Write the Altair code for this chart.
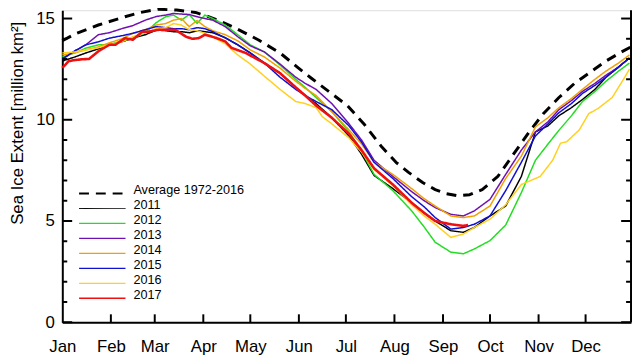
import altair as alt
import pandas as pd

# ---------------- data ----------------
NAMES = ["Average 1972-2016", "2011", "2012", "2013", "2014", "2015", "2016", "2017"]

DAYS_AVG = [0, 9, 23, 40, 50, 61, 73, 85, 92, 100, 111, 125, 139, 150, 159, 170, 182, 193,
            204, 213, 221, 230, 238, 245, 252, 260, 268, 278, 288, 298, 307, 317, 327, 337,
            347, 357, 363]
EXT_AVG = [13.9, 14.27, 14.68, 15.09, 15.3, 15.46, 15.42, 15.3, 15.13, 14.9, 14.51, 13.95,
           13.3, 12.6, 12.05, 11.4, 10.7, 9.75, 8.65, 7.9, 7.4, 6.9, 6.55, 6.35, 6.25,
           6.3, 6.55, 7.2, 8.3, 9.4, 10.3, 11.1, 11.8, 12.35, 12.9, 13.35, 13.6]

DAYS_Y = [0, 8, 15, 23, 30, 38, 45, 53, 60, 66, 71, 76, 81, 86, 91, 96, 104, 112, 120, 129,
          139, 149, 155, 162, 172, 183, 191, 199, 211, 223, 231, 238, 248, 256, 263, 273,
          283, 293, 302, 310, 317, 325, 332, 340, 347, 355, 362]

EXT_2011 = [12.9, 13.1, 13.3, 13.5, 13.7, 13.85, 14.03, 14.2, 14.43, 14.4, 14.35, 14.35, 14.3,
            14.4, 14.35, 14.3, 14.05, 13.7, 13.3, 12.8, 12.3, 11.6, 11.2, 10.8, 10.1, 9.2,
            8.3, 7.25, 6.6, 5.9, 5.4, 5.0, 4.52, 4.44, 4.68, 5.25, 5.74, 7.2, 9.4, 9.7,
            10.2, 10.6, 11.0, 11.5, 12.1, 12.6, 13.05]
EXT_2012 = [13.1, 13.3, 13.54, 13.7, 13.7, 13.9, 14.03, 14.3, 14.8, 15.09, 15.17, 14.92, 15.2,
            14.76, 15.17, 15.0, 14.68, 14.2, 13.7, 13.35, 12.7, 12.0, 11.6, 11.1, 10.4, 9.4,
            8.45, 7.3, 6.5, 5.5, 4.7, 3.95, 3.46, 3.38, 3.62, 4.03, 4.8, 6.4, 8.0, 8.8, 9.48,
            10.2, 10.9, 11.4, 11.9, 12.4, 12.8]
EXT_2013 = [13.0, 13.4, 13.7, 14.2, 14.3, 14.5, 14.65, 14.92, 15.1, 15.17, 15.25, 15.22, 15.2,
            15.09, 15.0, 14.92, 14.6, 14.1, 13.65, 13.35, 12.75, 12.1, 11.8, 11.5, 10.8, 9.8,
            9.0, 8.0, 7.2, 6.45, 6.0, 5.66, 5.33, 5.25, 5.5, 6.07, 7.3, 8.5, 9.4, 9.9, 10.5,
            10.95, 11.4, 11.8, 12.2, 12.6, 13.05]
EXT_2014 = [13.2, 13.3, 13.45, 13.6, 13.8, 14.0, 14.27, 14.45, 14.68, 14.75, 14.92, 15.0, 14.6,
            14.9, 14.6, 14.4, 14.2, 13.9, 13.45, 13.1, 12.55, 11.9, 11.55, 11.2, 10.4, 9.5,
            8.8, 7.9, 7.3, 6.6, 6.1, 5.74, 5.25, 5.17, 5.25, 5.74, 7.1, 8.2, 9.65, 10.1,
            10.6, 11.05, 11.5, 12.0, 12.4, 12.8, 13.2]
EXT_2015 = [13.0, 13.4, 13.7, 13.85, 14.03, 14.15, 14.27, 14.45, 14.6, 14.55, 14.5, 14.5, 14.45,
            14.55, 14.5, 14.35, 14.05, 13.7, 13.3, 12.8, 12.1, 11.5, 11.2, 10.9, 10.5, 9.7,
            8.9, 7.9, 7.1, 6.2, 5.7, 5.17, 4.6, 4.68, 4.84, 5.25, 6.5, 7.9, 9.2, 9.8, 10.35,
            10.8, 11.3, 11.7, 12.1, 12.6, 13.05]

DAYS_2016 = [0, 8, 15, 23, 30, 38, 45, 53, 60, 66, 71, 76, 81, 86, 91, 96, 104, 112, 120, 129,
             139, 149, 155, 162, 166, 172, 183, 191, 199, 211, 223, 231, 238, 248, 256, 263,
             273, 283, 293, 305, 313, 318, 322, 330, 336, 342, 351, 359, 362]
EXT_2016 = [13.3, 13.35, 13.45, 13.55, 13.7, 13.85, 14.1, 14.3, 14.5, 14.55, 14.75, 14.68,
            14.45, 14.4, 14.27, 14.1, 13.75, 13.2, 12.75, 12.15, 11.5, 10.9, 10.8, 10.6, 10.15,
            9.8, 9.1, 8.4, 7.55, 6.75, 5.8, 5.25, 4.84, 4.19, 4.36, 4.68, 5.09, 5.8, 6.8, 7.2,
            8.0, 8.84, 8.92, 9.5, 10.3, 10.56, 11.1, 12.1, 12.5]

DAYS_2017 = [0, 4, 8, 13, 17, 23, 30, 34, 40, 45, 51, 55, 62, 66, 72, 79, 83, 87, 91, 98, 104,
             108, 117, 129, 139, 149, 155, 162, 172, 183, 191, 199, 211, 223, 231, 238, 248,
             256, 259]
EXT_2017 = [12.56, 12.89, 12.95, 12.99, 13.0, 13.38, 13.7, 13.71, 14.03, 13.95, 14.35, 14.35,
            14.45, 14.45, 14.45, 14.1, 14.0, 14.03, 14.2, 14.05, 13.87, 13.55, 13.3, 12.8,
            12.3, 11.6, 11.2, 10.7, 10.1, 9.3, 8.5, 7.6, 6.8, 5.9, 5.4, 5.0, 4.84, 4.76, 4.8]

MONTHS = ["Jan", "Feb", "Mar", "Apr", "May", "Jun", "Jul", "Aug", "Sep", "Oct", "Nov", "Dec"]
MONTH_DAYS = [0, 31, 59, 90, 120, 151, 181, 212, 243, 273, 304, 334]
Y_TICKS = list(range(0, 16))

# ---------------- styles ----------------
COLORS = ["#000000", "#000000", "#22dd22", "#7010b0", "#f0a000", "#1010d0", "#ffd020", "#ee1010"]
DASHES = [[10, 7]] + [[1, 0]] * 7
LINE_W = [3, 1.5, 1.5, 1.5, 1.5, 1.5, 1.5, 2.6]
LEG_W = [2, 1, 1.3, 1.3, 1.3, 1.3, 1.3, 1.3]

W, H = 576, 316
FONT = "Liberation Sans"
X_DOMAIN = [0, 363]
Y_DOMAIN = [0, 15.41]

series = [
    (DAYS_AVG, EXT_AVG), (DAYS_Y, EXT_2011), (DAYS_Y, EXT_2012), (DAYS_Y, EXT_2013),
    (DAYS_Y, EXT_2014), (DAYS_Y, EXT_2015), (DAYS_2016, EXT_2016), (DAYS_2017, EXT_2017),
]
rows = []
for i, (name, (ds, vs)) in enumerate(zip(NAMES, series)):
    for d, v in zip(ds, vs):
        rows.append({"series": name, "day": d, "ext": v, "lw": LINE_W[i]})
df = pd.DataFrame(rows)


def xs():
    return alt.Scale(domain=X_DOMAIN, nice=False, zero=False)


def ys():
    return alt.Scale(domain=Y_DOMAIN, nice=False, zero=True)


cscale = alt.Scale(domain=NAMES, range=COLORS)
dscale = alt.Scale(domain=NAMES, range=DASHES)

label_expr = " : ".join(
    "datum.value == {} ? '{}'".format(d, m) for d, m in zip(MONTH_DAYS, MONTHS)
) + " : ''"

lines = alt.Chart(df).mark_line(interpolate="linear", strokeJoin="round").encode(
    x=alt.X("day:Q", scale=xs(), axis=alt.Axis(
        values=MONTH_DAYS, labelExpr=label_expr, ticks=False, grid=False, title=None,
        domainColor="black", domainWidth=2, labelFontSize=17, labelFont=FONT,
        labelColor="black", labelPadding=17, labelFlush=False, labelOverlap=False,
        labelAlign="center", labelBaseline="top")),
    y=alt.Y("ext:Q", scale=ys(), axis=alt.Axis(
        values=[0, 5, 10, 15], ticks=False, grid=False, title="Sea Ice Extent [million km²]",
        domainColor="black", domainWidth=2, labelFontSize=17, labelFont=FONT,
        labelColor="black", labelPadding=8, labelBaseline="middle",
        titleFont=FONT, titleFontSize=17, titleFontWeight="normal", titleColor="black",
        titleAngle=270, titleX=-45, titleY=114, titleAlign="center", titleBaseline="middle")),
    color=alt.Color("series:N", scale=cscale, legend=None),
    strokeDash=alt.StrokeDash("series:N", scale=dscale, legend=None),
    strokeWidth=alt.StrokeWidth("lw:Q", scale=None, legend=None),
    order=alt.Order("day:Q"),
)

# inward tick marks on the left / right edges and the bottom
tdf = pd.DataFrame({"v": Y_TICKS})
major = tdf[tdf.v % 5 == 0]
minor = tdf[tdf.v % 5 != 0]


def ytick(data, x0, x1):
    return alt.Chart(data).mark_rule(color="black", strokeWidth=2).encode(
        y=alt.Y("v:Q", scale=ys(), axis=None),
        x=alt.value(x0), x2=alt.value(x1))


mdf = pd.DataFrame({"d": MONTH_DAYS[1:]})
xticks = alt.Chart(mdf).mark_rule(color="black", strokeWidth=2).encode(
    x=alt.X("d:Q", scale=xs(), axis=None), y=alt.value(H), y2=alt.value(H - 8))

right_edge = alt.Chart(mdf.head(1)).mark_rule(color="black", strokeWidth=2).encode(
    x=alt.value(W), y=alt.value(0), y2=alt.value(H))

# legend drawn as marks
ldf = pd.DataFrame({"series": NAMES, "lw": LEG_W})
lyscale = alt.Scale(type="point", domain=NAMES, range=[185.7, 291.7], padding=0)
leg_lines = alt.Chart(ldf).mark_rule().encode(
    y=alt.Y("series:N", scale=lyscale, axis=None),
    x=alt.value(17), x2=alt.value(64),
    color=alt.Color("series:N", scale=cscale, legend=None),
    strokeDash=alt.StrokeDash("series:N", scale=dscale, legend=None),
    strokeWidth=alt.StrokeWidth("lw:Q", scale=None, legend=None),
)
leg_text = alt.Chart(ldf).mark_text(
    align="left", baseline="alphabetic", font=FONT, fontSize=12.8, color="black", dy=0.5
).encode(
    y=alt.Y("series:N", scale=lyscale, axis=None),
    x=alt.value(72),
    text="series:N",
)

chart = alt.layer(
    lines, ytick(major, 0, 10), ytick(minor, 0, 5), ytick(major, W, W - 10),
    ytick(minor, W, W - 5), xticks, right_edge, leg_lines, leg_text,
).resolve_scale(y="independent", x="independent").properties(
    width=W, height=H,
    padding={"left": 55, "top": 0, "right": 1, "bottom": 36},
    autosize=alt.AutoSizeParams(type="none"),
).configure_view(stroke=None).configure(background="white")

chart.save("out.html", embed_options={"renderer": "svg", "actions": False})
